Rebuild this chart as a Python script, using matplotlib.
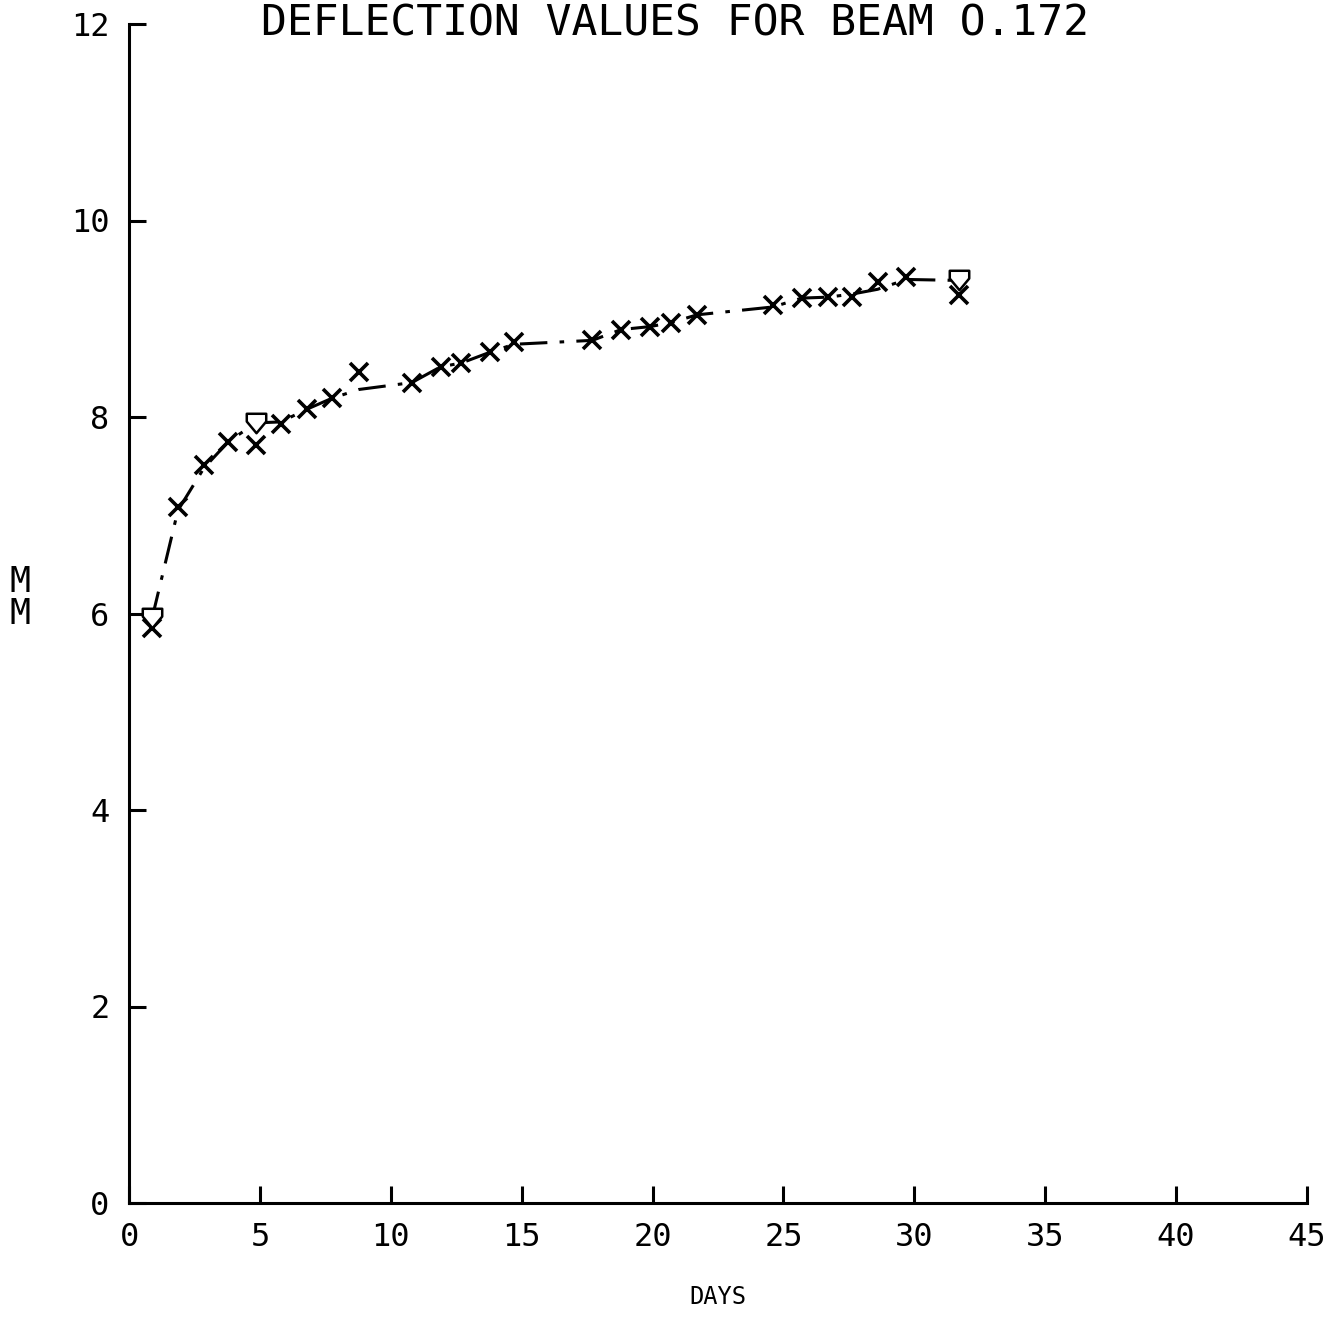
import matplotlib
matplotlib.use("Agg")
import matplotlib.pyplot as plt
from matplotlib.path import Path

# Measured deflection readings (days after loading, mm)
days = [0.88, 1.87, 2.86, 3.80, 4.85, 5.80, 6.80, 7.75, 8.78, 10.8, 11.9, 12.7, 13.8,
        14.7, 17.7, 18.8, 19.9, 20.7, 21.7, 24.6, 25.7, 26.7, 27.6, 28.6, 29.7, 31.7]
deflection_mm = [5.85, 7.08, 7.51, 7.75, 7.72, 7.93, 8.08, 8.19, 8.46, 8.35, 8.51, 8.55, 8.66,
                 8.76, 8.78, 8.89, 8.92, 8.96, 9.04, 9.14, 9.21, 9.22, 9.22, 9.37, 9.43, 9.24]
# Plotted trace through the readings
trace_mm = [5.95, 7.05, 7.48, 7.75, 7.94, 7.95, 8.08, 8.19, 8.28, 8.35, 8.51, 8.55, 8.66,
            8.74, 8.78, 8.89, 8.92, 8.96, 9.04, 9.12, 9.21, 9.22, 9.25, 9.30, 9.40, 9.39]
# Readings flagged with the shield symbol
flag_idx = [0, 4, 25]

x_ticks = [0, 5, 10, 15, 20, 25, 30, 35, 40, 45]
y_ticks = [0, 2, 4, 6, 8, 10, 12]

W, H = 1327, 1318
fig = plt.figure(figsize=(W / 100, H / 100), dpi=100)
ax = fig.add_axes([129 / W, 1 - 1203 / H, (1307 - 129) / W, (1203 - 24) / H])

font = "DejaVu Sans Mono"

# shield-shaped marker
shield = Path([(-1, 1), (1, 1), (1, 0.2), (0, -1), (-1, 0.2), (-1, 1)],
              [Path.MOVETO, Path.LINETO, Path.LINETO, Path.LINETO, Path.LINETO, Path.CLOSEPOLY])

ax.plot(days, trace_mm, color="black", lw=2.2, linestyle=(0, (9, 4, 1.5, 4)), zorder=2)
ax.plot(days, deflection_mm, linestyle="none", marker="x", markersize=13,
        markeredgewidth=2.6, color="black", zorder=3)
ax.plot([days[i] for i in flag_idx], [trace_mm[i] for i in flag_idx], linestyle="none",
        marker=shield, markersize=14, markerfacecolor="white", markeredgecolor="black",
        markeredgewidth=1.8, zorder=4)

ax.set_xlim(0, 45)
ax.set_ylim(0, 12)
for s in ["top", "right"]:
    ax.spines[s].set_visible(False)
for s in ["left", "bottom"]:
    ax.spines[s].set_linewidth(2.2)
ax.set_xticks(x_ticks)
ax.set_yticks(y_ticks)
ax.set_xticklabels([str(v) for v in x_ticks], fontsize=23, family=font)
ax.set_yticklabels([str(v) for v in y_ticks], fontsize=23, family=font)
ax.tick_params(axis="both", direction="in", length=12, width=2.2)
ax.tick_params(axis="x", pad=14)
ax.tick_params(axis="y", pad=14)

fig.text(20 / W, 1 - 598 / H, "M\nM", fontsize=25, family=font, ha="center", va="center",
         linespacing=0.95)
fig.text(718 / W, 1 - 1297 / H, "DAYS", fontsize=17, family=font, ha="center", va="center")
fig.text(675 / W, 1 - 2 / H, "DEFLECTION VALUES FOR BEAM O.172", fontsize=31, family=font,
         ha="center", va="top")

fig.savefig("out.png", dpi=100)
